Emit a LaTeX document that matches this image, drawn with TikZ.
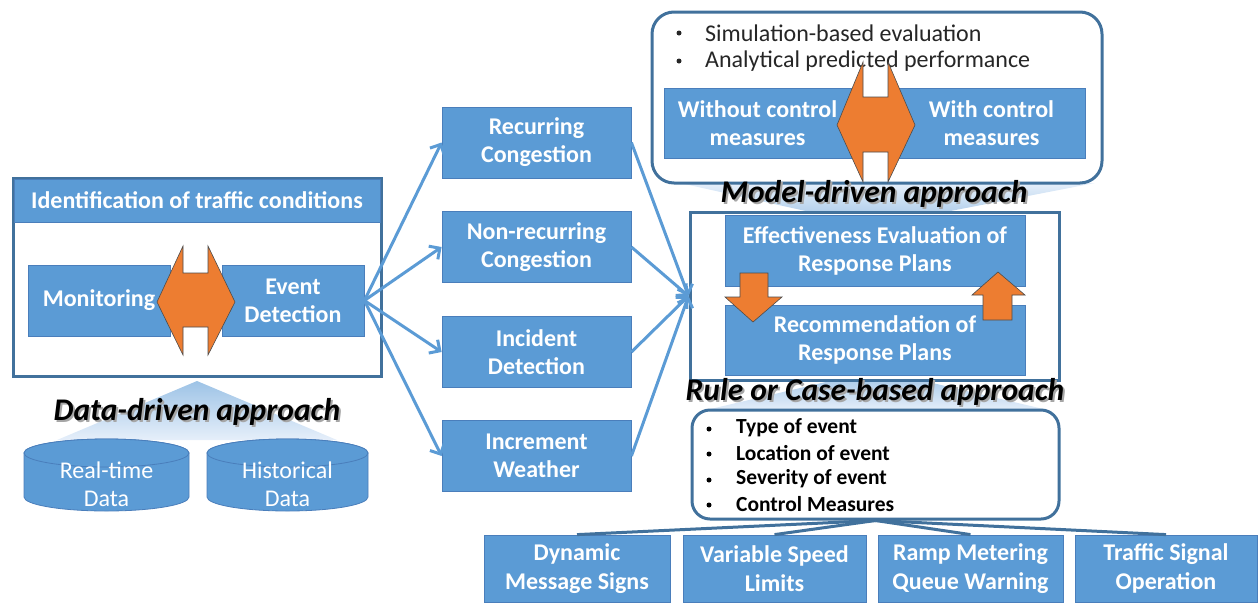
\documentclass[tikz,border=0pt]{standalone}
\usepackage{fontspec}
\setmainfont{Carlito}
\usetikzlibrary{arrows.meta}
\definecolor{bblue}{HTML}{5B9BD5}
\definecolor{bedge}{HTML}{4A7EBB}
\definecolor{fblue}{HTML}{41719C}
\definecolor{orng}{HTML}{ED7D31}
\definecolor{gapex}{HTML}{9DC3E6}
\definecolor{gbase}{HTML}{E6EFFA}
\definecolor{dtext}{HTML}{262626}
\begin{document}
\begin{tikzpicture}[x=1pt,y=-1pt,
  bx/.style={draw=bedge, line width=0.8pt, fill=bblue, text=white,
    font=\fontsize{24}{28}\selectfont\bfseries, align=center, inner sep=0pt},
  bxs/.style={bx, font=\fontsize{24}{29}\selectfont\bfseries},
  frm/.style={draw=fblue, line width=3pt},
  orngshape/.style={fill=orng, draw=gray!60!black, line width=0.6pt},
  conn/.style={draw=bblue, line width=3pt, -{Straight Barb[length=8pt,width=16pt]}},
  fan/.style={draw=fblue, line width=3pt},
  apx/.style={font=\fontsize{31.5}{34}\selectfont\bfseries\itshape, inner sep=0pt},
  apxs/.style={apx, text=black!35},
  bul/.style={anchor=west, inner sep=0pt, text=dtext, font=\fontsize{24}{28}\selectfont},
  bulb/.style={anchor=west, inner sep=0pt, text=black, font=\fontsize{21.5}{24}\selectfont\bfseries},
  dot/.style={circle, fill=dtext, inner sep=0pt, minimum size=5pt},
  cyl/.style={fill=bblue, draw=bedge, line width=0.8pt},
  cyltext/.style={text=white, font=\fontsize{24}{28}\selectfont, align=center, inner sep=0pt}
]
\useasboundingbox (0,0) rectangle (1259,606);

% ---------- gradient triangles ----------
\shade[top color=gapex, bottom color=gbase] (197,381) -- (337,440) -- (57,440) -- cycle;
\shade[top color=gbase, bottom color=gapex] (680,183) -- (1095,183) -- (873,226) -- cycle;
\shade[top color=gapex, bottom color=gbase] (877,370) -- (1052,411) -- (702,411) -- cycle;

% ---------- left block ----------
\draw[frm, fill=white] (13,178) rectangle (381,376);
\node[bx, minimum width=366pt, minimum height=43pt] (hdr) at (197,200.5) {Identification of traffic conditions};
\node[bx, minimum width=142pt, minimum height=71pt] (mon) at (99,300.5) {Monitoring};
\node[bx, minimum width=142pt, minimum height=71pt] (evt) at (293,300.5) {Event\\Detection};
\draw[orngshape] (183,246) -- (183,273) -- (208,273) -- (208,246) -- (235,302) -- (208,355)
  -- (208,327) -- (183,327) -- (183,355) -- (157,302) -- cycle;

% ---------- cylinders ----------
\draw[cyl] (24,453) -- (24,497) arc[start angle=180, end angle=0, x radius=82.5, y radius=14]
  -- (189,453) arc[start angle=0, end angle=-180, x radius=82.5, y radius=14] -- cycle;
\draw[cyl] (106.5,453) ellipse [x radius=82.5, y radius=14];
\node[cyltext] (rtd) at (106.5,484) {Real-time\\Data};
\draw[cyl] (207,453) -- (207,497) arc[start angle=180, end angle=0, x radius=80.5, y radius=14]
  -- (368,453) arc[start angle=0, end angle=-180, x radius=80.5, y radius=14] -- cycle;
\draw[cyl] (287.5,453) ellipse [x radius=80.5, y radius=14];
\node[cyltext] (htd) at (287.5,484) {Historical\\Data};

\node[apxs] (dds) at (199,414) {Data-driven approach};
\node[apx] (ddt) at (197,412) {Data-driven approach};

% ---------- middle column ----------
\node[bx, minimum width=189pt, minimum height=71pt] (rec) at (536.5,142.5) {Recurring\\Congestion};
\node[bx, minimum width=189pt, minimum height=71pt] (nrc) at (536.5,247) {Non-recurring\\Congestion};
\node[bx, minimum width=189pt, minimum height=71pt] (inc) at (536.5,352) {Incident\\Detection};
\node[bx, minimum width=189pt, minimum height=71pt] (wea) at (536.5,456) {Increment\\Weather};

% ---------- right frame ----------
\node[frm, fill=white, minimum width=369pt, minimum height=168pt, inner sep=0pt] (rfr) at (874.5,296) {};
\node[bx, minimum width=300pt, minimum height=71pt] (eff) at (875,250.5) {Effectiveness Evaluation of\\Response Plans};
\node[bx, minimum width=300pt, minimum height=70pt] (rcm) at (875,340) {Recommendation of\\Response Plans};
\draw[orngshape] (740,273) -- (768,273) -- (768,297) -- (782,297) -- (753,322) -- (725,297) -- (740,297) -- cycle;
\draw[orngshape] (983,320) -- (1012,320) -- (1012,295) -- (1025,295) -- (998,272) -- (972,295) -- (983,295) -- cycle;

% ---------- top rounded box ----------
\draw[frm, fill=white, rounded corners=22pt] (652,12) rectangle (1102,183);
\node[dot] (tb1) at (679,33) {};
\node[bul] (tt1) at (705,33) {Simulation-based evaluation};
\node[dot] (tb2) at (679,61) {};
\node[bul] (tt2) at (705,61) {Analytical predicted performance};
\node[bx, minimum width=187pt, minimum height=70pt] (wo) at (757.5,123) {Without control\\measures};
\node[bx, minimum width=187pt, minimum height=70pt] (wi) at (991.5,123) {With control\\measures};
\draw[orngshape] (863,62) -- (863,97) -- (888,97) -- (888,62) -- (915,125) -- (888,182)
  -- (888,152) -- (863,152) -- (863,182) -- (837,125) -- cycle;

\node[apxs] (mds) at (876,196) {Model-driven approach};
\node[apx] (mdt) at (874,194) {Model-driven approach};
\node[apxs] (rcs) at (877,394) {Rule or Case-based approach};
\node[apx] (rct) at (875,392) {Rule or Case-based approach};

% ---------- list box ----------
\node[frm, fill=white, rounded corners=18pt, minimum width=367pt, minimum height=109pt, inner sep=0pt] (lst) at (875.5,464.5) {};
\node[dot, fill=black] (lb1) at (709,429) {};
\node[bulb] (lt1) at (736,428) {Type of event};
\node[dot, fill=black] (lb2) at (709,454) {};
\node[bulb] (lt2) at (736,453) {Location of event};
\node[dot, fill=black] (lb3) at (709,480) {};
\node[bulb] (lt3) at (736,479) {Severity of event};
\node[dot, fill=black] (lb4) at (709,505) {};
\node[bulb] (lt4) at (736,504) {Control Measures};

% ---------- bottom boxes ----------
\node[bxs, minimum width=186pt, minimum height=67pt] (dms) at (577,568.5) {Dynamic\\Message Signs};
\node[bxs, minimum width=183pt, minimum height=67pt] (vsl) at (774.5,568.5) {Variable Speed\\Limits};
\node[bxs, minimum width=185pt, minimum height=67pt] (rmq) at (970.5,568.5) {Ramp Metering\\Queue Warning};
\node[bxs, minimum width=182pt, minimum height=67pt] (tso) at (1166,568.5) {Traffic Signal\\Operation};

% ---------- connectors ----------
\foreach \t in {rec,nrc,inc,wea} {
  \draw[conn] (evt.east) -- (\t.west);
  \draw[conn] (\t.east) -- (rfr.west);
}
\foreach \t in {dms,vsl,rmq,tso} {
  \draw[fan] (lst.south) -- (\t.north);
}
\end{tikzpicture}
\end{document}
